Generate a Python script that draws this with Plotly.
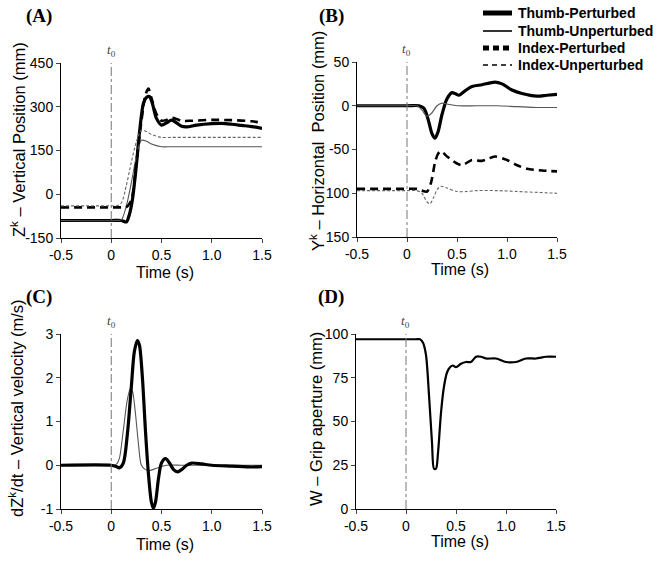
import plotly.graph_objects as go

# ---------------- data ----------------
# Panel A: vertical position (mm)
a_tp_t = [-0.5, 0.0, 0.1, 0.15, 0.18, 0.21, 0.25, 0.28, 0.32, 0.35, 0.38, 0.41, 0.45, 0.5, 0.55, 0.6, 0.65, 0.7, 0.75, 0.85, 1.0, 1.1, 1.2, 1.3, 1.4, 1.5]
a_tp_v = [-90, -90, -90, -95, -70, -20, 100, 209, 311, 332, 335, 310, 260, 237, 245, 254, 245, 233, 231, 237, 242, 243, 240, 236, 232, 226]
a_tu_t = [-0.5, 0.05, 0.1, 0.15, 0.2, 0.25, 0.3, 0.35, 0.4, 0.5, 0.6, 0.8, 1.0, 1.2, 1.5]
a_tu_v = [-90, -90, -88, -40, 40, 130, 185, 182, 172, 163, 163, 163, 163, 163, 163]
a_ip_t = [-0.5, 0.0, 0.1, 0.15, 0.2, 0.25, 0.3, 0.34, 0.37, 0.4, 0.45, 0.5, 0.55, 0.6, 0.65, 0.7, 0.8, 1.0, 1.2, 1.4, 1.5]
a_ip_v = [-45, -45, -45, -44, -20, 110, 250, 340, 362, 330, 275, 252, 255, 262, 258, 252, 252, 255, 254, 250, 245]
a_iu_t = [-0.5, 0.0, 0.05, 0.1, 0.15, 0.2, 0.25, 0.3, 0.35, 0.4, 0.5, 0.6, 0.8, 1.0, 1.2, 1.5]
a_iu_v = [-40, -40, -40, -30, 30, 110, 180, 220, 215, 205, 195, 195, 195, 195, 195, 195]

# Panel B: horizontal position (mm)
b_tp_t = [-0.5, 0.0, 0.12, 0.17, 0.21, 0.25, 0.28, 0.31, 0.35, 0.4, 0.45, 0.48, 0.52, 0.58, 0.65, 0.75, 0.88, 0.95, 1.05, 1.15, 1.3, 1.4, 1.5]
b_tp_v = [0, 0, 0, -3, -15, -32, -37, -30, -10, 8, 15, 14, 12, 17, 22, 24, 27, 25, 18, 14, 11, 12, 13]
b_tu_t = [-0.5, 0.0, 0.1, 0.15, 0.2, 0.25, 0.3, 0.35, 0.4, 0.5, 0.7, 0.9, 1.1, 1.3, 1.5]
b_tu_v = [0, 0, 0, -5, -12, -8, 0, 3, 2, 0, 0, 0, -1, -2, -2]
b_ip_t = [-0.5, 0.0, 0.1, 0.15, 0.2, 0.24, 0.28, 0.31, 0.34, 0.4, 0.5, 0.55, 0.65, 0.75, 0.88, 1.0, 1.1, 1.2, 1.35, 1.5]
b_ip_v = [-95, -95, -95, -97, -98, -88, -65, -55, -52, -58, -66, -68, -62, -63, -58, -62, -68, -72, -74, -75]
b_iu_t = [-0.5, 0.0, 0.1, 0.15, 0.2, 0.23, 0.27, 0.3, 0.34, 0.4, 0.5, 0.6, 0.7, 0.9, 1.1, 1.3, 1.5]
b_iu_v = [-97, -97, -97, -100, -110, -112, -104, -96, -92, -94, -98, -98, -97, -97, -98, -99, -100]

# Panel C: vertical velocity (m/s)
c_tp_t = [-0.5, 0.0, 0.05, 0.08, 0.12, 0.16, 0.2, 0.23, 0.26, 0.28, 0.31, 0.34, 0.37, 0.4, 0.42, 0.44, 0.47, 0.5, 0.54, 0.58, 0.62, 0.66, 0.7, 0.75, 0.8, 0.9, 1.0, 1.2, 1.4, 1.5]
c_tp_v = [0, 0, -0.03, -0.06, 0.05, 0.7, 1.8, 2.6, 2.85, 2.75, 2.0, 0.8, -0.2, -0.85, -0.98, -0.85, -0.3, 0.05, 0.15, 0.05, -0.1, -0.15, -0.1, 0.0, 0.05, 0.03, 0.0, -0.02, -0.04, -0.03]
c_tu_t = [-0.5, 0.0, 0.05, 0.08, 0.12, 0.16, 0.19, 0.21, 0.24, 0.27, 0.3, 0.34, 0.38, 0.45, 0.55, 0.7, 1.0, 1.5]
c_tu_v = [0, 0, 0.02, 0.15, 0.8, 1.5, 1.75, 1.7, 1.2, 0.5, 0.0, -0.1, -0.12, -0.07, 0.0, 0.0, 0.0, 0.0]

# Panel D: grip aperture (mm)
d_t = [-0.5, 0.0, 0.1, 0.14, 0.17, 0.2, 0.23, 0.26, 0.28, 0.3, 0.32, 0.35, 0.38, 0.41, 0.44, 0.47, 0.5, 0.55, 0.6, 0.65, 0.7, 0.75, 0.8, 0.9, 1.0, 1.1, 1.2, 1.3, 1.4, 1.5]
d_w = [97, 97, 97, 97, 95, 88, 65, 38, 23, 23, 32, 55, 70, 78, 81, 82, 81, 83, 84, 84, 87, 87, 86, 86, 84, 84, 86, 86, 87, 87]

x_ticks = [-0.5, 0, 0.5, 1.0, 1.5]
x_ticktext = ["-0.5", "0", "0.5", "1.0", "1.5"]
a_ticks = [-150, 0, 150, 300, 450]
b_ticks = [-150, -100, -50, 0, 50]
b_ticktext = ["150", "100", "-50", "0", "50"]
c_ticks = [-1, 0, 1, 2, 3]
d_ticks = [0, 25, 50, 75, 100]

series_names = ["Thumb-Perturbed", "Thumb-Unperturbed", "Index-Perturbed", "Index-Unperturbed"]

# ---------------- styles ----------------
W, H = 659, 561
FONT = "Liberation Sans, Arial, sans-serif"
SERIF = "Liberation Serif, Times New Roman, serif"
styles = {
    "Thumb-Perturbed": dict(color="black", width=3.2, dash="solid"),
    "Thumb-Unperturbed": dict(color="#555555", width=1.1, dash="solid"),
    "Index-Perturbed": dict(color="black", width=2.6, dash="8px,5px"),
    "Index-Unperturbed": dict(color="#666666", width=1.1, dash="3px,2px"),
}
legend_styles = {
    "Thumb-Perturbed": dict(color="black", width=5, dash="solid"),
    "Thumb-Unperturbed": dict(color="black", width=1.6, dash="solid"),
    "Index-Perturbed": dict(color="black", width=5, dash="6px,4px"),
    "Index-Unperturbed": dict(color="black", width=1.6, dash="5px,4px"),
}

def px_x(p):
    return p / W

def px_y(p):
    return 1 - p / H

fig = go.Figure()

def add(t, v, name, xa, ya):
    fig.add_trace(go.Scatter(x=t, y=v, mode="lines", name=name,
                             line=dict(**styles[name], shape="spline", smoothing=0.8),
                             xaxis=xa, yaxis=ya, showlegend=False))

add(a_tp_t, a_tp_v, "Thumb-Perturbed", "x", "y")
add(a_tu_t, a_tu_v, "Thumb-Unperturbed", "x", "y")
add(a_ip_t, a_ip_v, "Index-Perturbed", "x", "y")
add(a_iu_t, a_iu_v, "Index-Unperturbed", "x", "y")
add(b_tp_t, b_tp_v, "Thumb-Perturbed", "x2", "y2")
add(b_tu_t, b_tu_v, "Thumb-Unperturbed", "x2", "y2")
add(b_ip_t, b_ip_v, "Index-Perturbed", "x2", "y2")
add(b_iu_t, b_iu_v, "Index-Unperturbed", "x2", "y2")
add(c_tu_t, c_tu_v, "Thumb-Unperturbed", "x3", "y3")
add(c_tp_t, c_tp_v, "Thumb-Perturbed", "x3", "y3")
fig.add_trace(go.Scatter(x=d_t, y=d_w, mode="lines", name="Grip aperture",
                         line=dict(color="black", width=2.2, shape="spline", smoothing=0.8),
                         xaxis="x4", yaxis="y4", showlegend=False))

panels = [
    ("xaxis", "yaxis", (61, 262), (63, 238), [-150, 450], a_ticks, [str(v) for v in a_ticks]),
    ("xaxis2", "yaxis2", (357, 557), (62, 237), [-150, 50], b_ticks, b_ticktext),
    ("xaxis3", "yaxis3", (61, 262), (334, 509), [-1, 3], c_ticks, [str(v) for v in c_ticks]),
    ("xaxis4", "yaxis4", (356, 556), (334, 509), [0, 100], d_ticks, [str(v) for v in d_ticks]),
]
axis_font = dict(family=FONT, size=14, color="black")
for i, (xk, yk, (xl, xr), (yt, yb), yr, yt_vals, yt_text) in enumerate(panels):
    suffix = "" if i == 0 else str(i + 1)
    fig.update_layout(**{
        xk: dict(domain=[px_x(xl), px_x(xr)], range=[-0.5, 1.5], anchor="y" + suffix,
                 tickvals=x_ticks, ticktext=x_ticktext, ticks="outside", ticklen=4,
                 showline=True, linecolor="black", linewidth=1, showgrid=False, zeroline=False,
                 tickfont=axis_font, automargin=False),
        yk: dict(domain=[px_y(yb), px_y(yt)], range=yr, anchor="x" + suffix,
                 tickvals=yt_vals, ticktext=yt_text, ticks="outside", ticklen=4,
                 showline=True, linecolor="black", linewidth=1, showgrid=False, zeroline=False,
                 tickfont=axis_font, automargin=False),
    })
    xr_ref = "x" + suffix
    yr_ref = "y" + suffix
    fig.add_shape(type="line", xref=xr_ref, yref=yr_ref + " domain", x0=0, x1=0, y0=0, y1=1,
                  line=dict(color="#777777", width=1, dash="dashdot"))
    fig.add_annotation(xref=xr_ref, yref=yr_ref + " domain", x=0, y=1.01, xanchor="center", yanchor="bottom",
                       text="<i>t</i><sub>0</sub>", showarrow=False,
                       font=dict(family=SERIF, size=13, color="#444444"))

# x-axis titles
for cx, cy in [(165, 273), (460, 269), (165, 544), (460, 541)]:
    fig.add_annotation(xref="paper", yref="paper", x=px_x(cx), y=px_y(cy), text="Time (s)",
                       xanchor="center", yanchor="middle",
                       showarrow=False, font=dict(family=FONT, size=16, color="black"))

# y-axis titles
ytitles = [
    (18, 140, "Z<sup>k</sup> – Vertical Position (mm)"),
    (317, 141, "Y<sup>k</sup> – Horizontal  Position (mm)"),
    (16, 408, "dZ<sup>k</sup>/dt – Vertical velocity (m/s)"),
    (316, 419, "W – Grip aperture (mm)"),
]
for cx, cy, txt in ytitles:
    fig.add_annotation(xref="paper", yref="paper", x=px_x(cx), y=px_y(cy), text=txt, textangle=-90,
                       xanchor="center", yanchor="middle",
                       showarrow=False, font=dict(family=FONT, size=16.5, color="black"))

# panel labels
for cx, cy, txt in [(39, 16, "(A)"), (331, 16, "(B)"), (39, 297, "(C)"), (331, 297, "(D)")]:
    fig.add_annotation(xref="paper", yref="paper", x=px_x(cx), y=px_y(cy), text="<b>%s</b>" % txt,
                       xanchor="center", yanchor="middle",
                       showarrow=False, font=dict(family=SERIF, size=19, color="black"))

# legend (drawn as key lines + labels, top right)
legend_rows = [13, 31, 48, 65]
for name, ry in zip(series_names, legend_rows):
    fig.add_shape(type="line", xref="paper", yref="paper", x0=px_x(483), x1=px_x(512),
                  y0=px_y(ry), y1=px_y(ry), line=legend_styles[name])
    fig.add_annotation(xref="paper", yref="paper", x=px_x(516), y=px_y(ry), text="<b>%s</b>" % name,
                       xanchor="left", yanchor="middle", showarrow=False,
                       font=dict(family=FONT, size=14, color="black"))

fig.update_layout(
    width=W, height=H, margin=dict(l=0, r=0, t=0, b=0, autoexpand=False),
    paper_bgcolor="white", plot_bgcolor="white",
    showlegend=False,
)

fig.write_html("out.html", config={"displayModeBar": False},
               post_script="document.body.style.margin='0';")
